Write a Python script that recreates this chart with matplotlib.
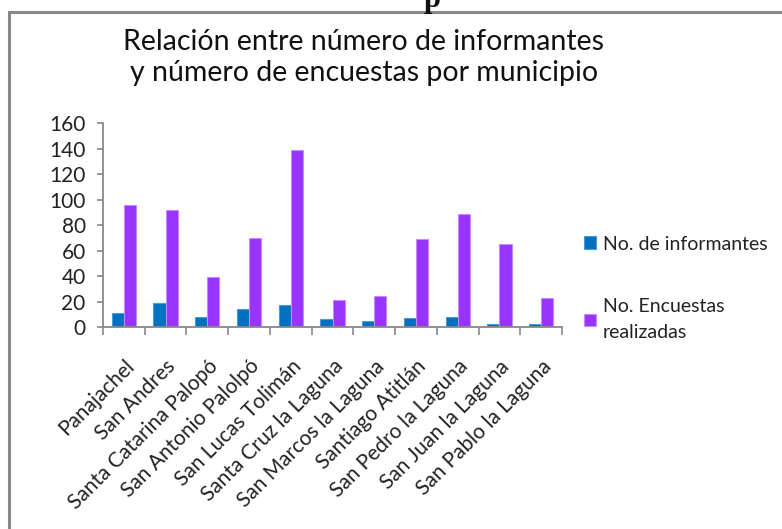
import matplotlib
matplotlib.use('Agg')
import matplotlib.pyplot as plt
import matplotlib.transforms as mtransforms
import numpy as np
from matplotlib.patches import Rectangle

municipios = ['Panajachel', 'San Andres', 'Santa Catarina Palopó', 'San Antonio Palolpó',
              'San Lucas Tolimán', 'Santa Cruz la Laguna', 'San Marcos la Laguna',
              'Santiago Atitlán', 'San Pedro la Laguna', 'San Juan la Laguna',
              'San Pablo la Laguna']
informantes = [11, 19, 8, 14, 17, 6, 5, 7, 8, 2, 2]
encuestas = [96, 92, 39, 70, 139, 21, 24, 69, 89, 65, 23]
y_ticks = [0, 20, 40, 60, 80, 100, 120, 140, 160]

plt.rcParams['font.family'] = ['Lato', 'DejaVu Sans']

fig = plt.figure(figsize=(7.82, 5.29), dpi=100)
ax = fig.add_axes([0.1317, 0.3819, 0.587, 0.385])

x = np.arange(len(municipios))
w = 0.29
ax.bar(x - w / 2, informantes, w, color='#0070C0', edgecolor='#4A9AD8', linewidth=0.8,
       label='No. de informantes')
ax.bar(x + w / 2, encuestas, w, color='#9933FF', edgecolor='#C58CFF', linewidth=0.8,
       label='No. Encuestas\nrealizadas')

ax.set_xlim(-0.5, len(municipios) - 0.5)
ax.set_ylim(0, 160)
ax.set_yticks(y_ticks)
ax.set_xticks(x)
ax.set_xticklabels(municipios, rotation=45, ha='right', va='top', rotation_mode='anchor',
                   fontsize=15, color='#222222')
# correr un poco las etiquetas hacia la derecha
shift = mtransforms.ScaledTranslation(15 / 100, 0, fig.dpi_scale_trans)
for lab in ax.get_xticklabels():
    lab.set_transform(lab.get_transform() + shift)
ax.set_xticks(np.arange(len(municipios) + 1) - 0.5, minor=True)
ax.tick_params(axis='x', which='major', length=0, pad=21)
ax.tick_params(axis='x', which='minor', length=6, color='#888888', width=1.2)
ax.tick_params(axis='y', length=4.5, color='#888888', width=1.2, labelsize=15,
               labelcolor='#222222', pad=8)
for s in ['top', 'right']:
    ax.spines[s].set_visible(False)
for s in ['left', 'bottom']:
    ax.spines[s].set_color('#888888')
    ax.spines[s].set_linewidth(1.3)

leg = ax.legend(loc='upper left', bbox_to_anchor=(1.01, 0.535), frameon=False, fontsize=14,
                handlelength=0.6, handleheight=0.6, handletextpad=0.35, labelspacing=2.35)
for t in leg.get_texts():
    t.set_linespacing(1.65)
    t.set_color('#222222')

fig.text(0.465, 0.891, 'Relación entre número de informantes\ny número de encuestas por municipio',
         ha='center', va='center', fontsize=20.5, linespacing=1.25, color='#111111')

# marco del gráfico (recortado a la derecha y abajo)
fig.patches.append(Rectangle((9 / 782, -0.05), 1.2, 1 - 12 / 529 + 0.05,
                             transform=fig.transFigure, fill=False,
                             edgecolor='#888888', linewidth=2.2))
# resto del encabezado recortado arriba
fig.text(0.552, 1.0, 'p', ha='center', va='center', fontsize=22, fontweight='bold',
         family='Liberation Serif', color='#111111')

fig.savefig('out.png', dpi=100, facecolor='white')
